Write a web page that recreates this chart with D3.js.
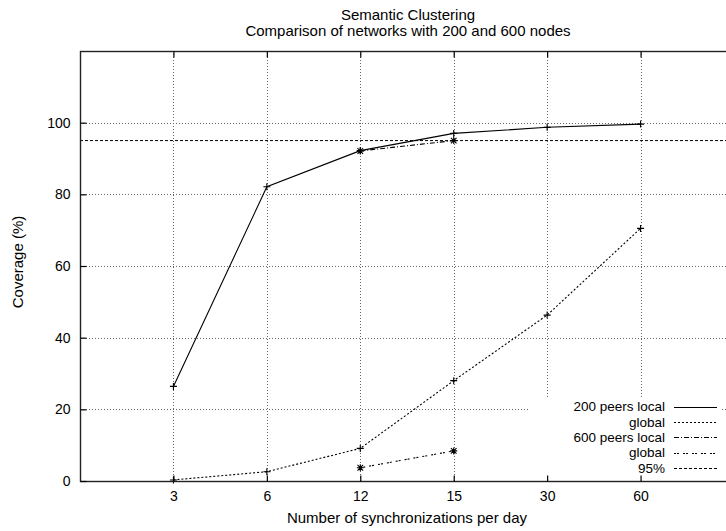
<!DOCTYPE html>
<html>
<head>
<meta charset="utf-8">
<script src="https://cdn.jsdelivr.net/npm/d3@7"></script>
<style>
  html, body { margin: 0; padding: 0; background: #fff; }
  #chart { width: 726px; height: 531px; overflow: hidden; }
  svg text { font-family: "Liberation Sans", Arial, Helvetica, sans-serif; font-size: 15px; fill: #000; }
  svg .tick text { font-size: 14px; }
  svg .key text { font-size: 13.5px; }
</style>
</head>
<body>
<div id="chart"></div>
<script>
(function () {
  var container = document.getElementById('chart');

  var categories = ['3', '6', '12', '15', '30', '60'];
  var yTicks = [0, 20, 40, 60, 80, 100];

  var local200 = [26.4, 82.1, 92.2, 97.0, 98.7, 99.6];
  var global200 = [0.3, 2.6, 9.1, 28.0, 46.3, 70.5];
  var local600Cats = ['12', '15'];
  var local600 = [92.1, 95.0];
  var global600Cats = ['12', '15'];
  var global600 = [3.7, 8.4];
  var threshold = 95;

  var titleLines = ['Semantic Clustering', 'Comparison of networks with 200 and 600 nodes'];
  var xTitle = 'Number of synchronizations per day';
  var yTitle = 'Coverage (%)';

  var series = [
    { label: '200 peers local', cats: categories, values: local200, dash: null, marker: 'plus' },
    { label: 'global', cats: categories, values: global200, dash: '2,2', marker: 'plus' },
    { label: '600 peers local', cats: local600Cats, values: local600, dash: '5,2,1,2', marker: 'star' },
    { label: 'global', cats: global600Cats, values: global600, dash: '2,1,2,4', marker: 'star' }
  ];
  var thresholdDash = '3,2';

  var width = 726;
  var height = 531;
  var margin = { top: 51, right: -8, bottom: 50, left: 80 };

  var svg = d3.select(container)
    .append('svg')
    .attr('width', width)
    .attr('height', height);

  var x = d3.scalePoint()
    .domain(categories)
    .range([margin.left, width - margin.right])
    .padding(1);

  var y = d3.scaleLinear()
    .domain([0, 120])
    .range([height - margin.bottom, margin.top]);

  var x0 = margin.left;
  var x1 = width - margin.right;
  var y0 = height - margin.bottom;
  var y1 = margin.top;

  // grid
  var grid = svg.append('g')
    .attr('stroke', '#666')
    .attr('stroke-width', 1)
    .attr('stroke-dasharray', '1,2');

  grid.selectAll('line.gx')
    .data(categories)
    .enter().append('line')
    .attr('class', 'gx')
    .attr('x1', function (d) { return Math.round(x(d)) + 0.5; })
    .attr('x2', function (d) { return Math.round(x(d)) + 0.5; })
    .attr('y1', y1)
    .attr('y2', y0);

  grid.selectAll('line.gy')
    .data(yTicks.filter(function (d) { return d > 0; }))
    .enter().append('line')
    .attr('class', 'gy')
    .attr('x1', x0)
    .attr('x2', x1)
    .attr('y1', function (d) { return Math.round(y(d)) + 0.5; })
    .attr('y2', function (d) { return Math.round(y(d)) + 0.5; });

  // legend background (opaque key)
  var keyX = 530;
  var keyY = 398;
  svg.append('rect')
    .attr('x', keyX)
    .attr('y', keyY)
    .attr('width', 192)
    .attr('height', y0 - keyY)
    .attr('fill', '#fff');

  // 95% line
  svg.append('line')
    .attr('x1', x0)
    .attr('x2', x1)
    .attr('y1', y(threshold))
    .attr('y2', y(threshold))
    .attr('stroke', '#000')
    .attr('stroke-width', 1)
    .attr('stroke-dasharray', thresholdDash);

  var line = d3.line()
    .x(function (d) { return x(d.c); })
    .y(function (d) { return y(d.v); });

  function markerPath(kind, cx, cy) {
    var s = 3.5;
    var p = 'M' + (cx - s) + ',' + cy + 'H' + (cx + s) + 'M' + cx + ',' + (cy - s) + 'V' + (cy + s);
    if (kind === 'star') {
      var k = 2.8;
      p += 'M' + (cx - k) + ',' + (cy - k) + 'L' + (cx + k) + ',' + (cy + k);
      p += 'M' + (cx - k) + ',' + (cy + k) + 'L' + (cx + k) + ',' + (cy - k);
    }
    return p;
  }

  var plot = svg.append('g');

  series.forEach(function (s) {
    var pts = s.cats.map(function (c, i) { return { c: c, v: s.values[i] }; });
    plot.append('path')
      .datum(pts)
      .attr('fill', 'none')
      .attr('stroke', '#000')
      .attr('stroke-width', 1.1)
      .attr('stroke-dasharray', s.dash)
      .attr('d', line);

    plot.selectAll(null)
      .data(pts)
      .enter().append('path')
      .attr('fill', 'none')
      .attr('stroke', '#000')
      .attr('stroke-width', 1.1)
      .attr('d', function (d) { return markerPath(s.marker, x(d.c), y(d.v)); });
  });

  // legend entries
  var legendItems = series.map(function (s) {
    return { label: s.label, dash: s.dash };
  });
  legendItems.push({ label: '95%', dash: thresholdDash });

  var legend = svg.append('g').attr('class', 'key');
  legendItems.forEach(function (item, i) {
    var ly = 406.5 + i * 15.4;
    legend.append('text')
      .attr('x', 665)
      .attr('y', ly)
      .attr('dy', '0.35em')
      .attr('text-anchor', 'end')
      .text(item.label);
    legend.append('line')
      .attr('x1', 674)
      .attr('x2', 717)
      .attr('y1', Math.round(ly) + 0.5)
      .attr('y2', Math.round(ly) + 0.5)
      .attr('stroke', '#000')
      .attr('stroke-width', 1)
      .attr('stroke-dasharray', item.dash);
  });

  // border and ticks
  var axes = svg.append('g');
  axes.append('rect')
    .attr('x', x0 + 0.5)
    .attr('y', y1 + 0.5)
    .attr('width', x1 - x0)
    .attr('height', y0 - y1)
    .attr('fill', 'none')
    .attr('stroke', '#222')
    .attr('stroke-width', 1.4);

  var bottomAxis = axes.append('g')
    .attr('transform', 'translate(0,' + (y0 + 0.5) + ')')
    .call(d3.axisBottom(x).tickSizeInner(-6).tickSizeOuter(0).tickPadding(10));
  var topAxis = axes.append('g')
    .attr('transform', 'translate(0,' + (y1 + 0.5) + ')')
    .call(d3.axisTop(x).tickSizeInner(-6).tickSizeOuter(0).tickFormat(''));
  var leftAxis = axes.append('g')
    .attr('transform', 'translate(' + (x0 + 0.5) + ',0)')
    .call(d3.axisLeft(y).tickValues(yTicks).tickSizeInner(-6).tickSizeOuter(0).tickPadding(10));

  [bottomAxis, topAxis, leftAxis].forEach(function (g) {
    g.select('.domain').remove();
    g.selectAll('.tick line').attr('stroke', '#000').attr('stroke-width', 1.2);
    g.selectAll('.tick text')
      .attr('font-family', null)
      .attr('font-size', null)
      .attr('fill', '#000');
  });

  // titles
  svg.selectAll('text.title')
    .data(titleLines)
    .enter().append('text')
    .attr('class', 'title')
    .attr('x', 408)
    .attr('y', function (d, i) { return 20 + i * 16; })
    .attr('text-anchor', 'middle')
    .text(function (d) { return d; });

  svg.append('text')
    .attr('x', 407)
    .attr('y', 523)
    .attr('text-anchor', 'middle')
    .text(xTitle);

  svg.append('text')
    .attr('transform', 'translate(23,262) rotate(-90)')
    .attr('text-anchor', 'middle')
    .text(yTitle);
})();
</script>
</body>
</html>
